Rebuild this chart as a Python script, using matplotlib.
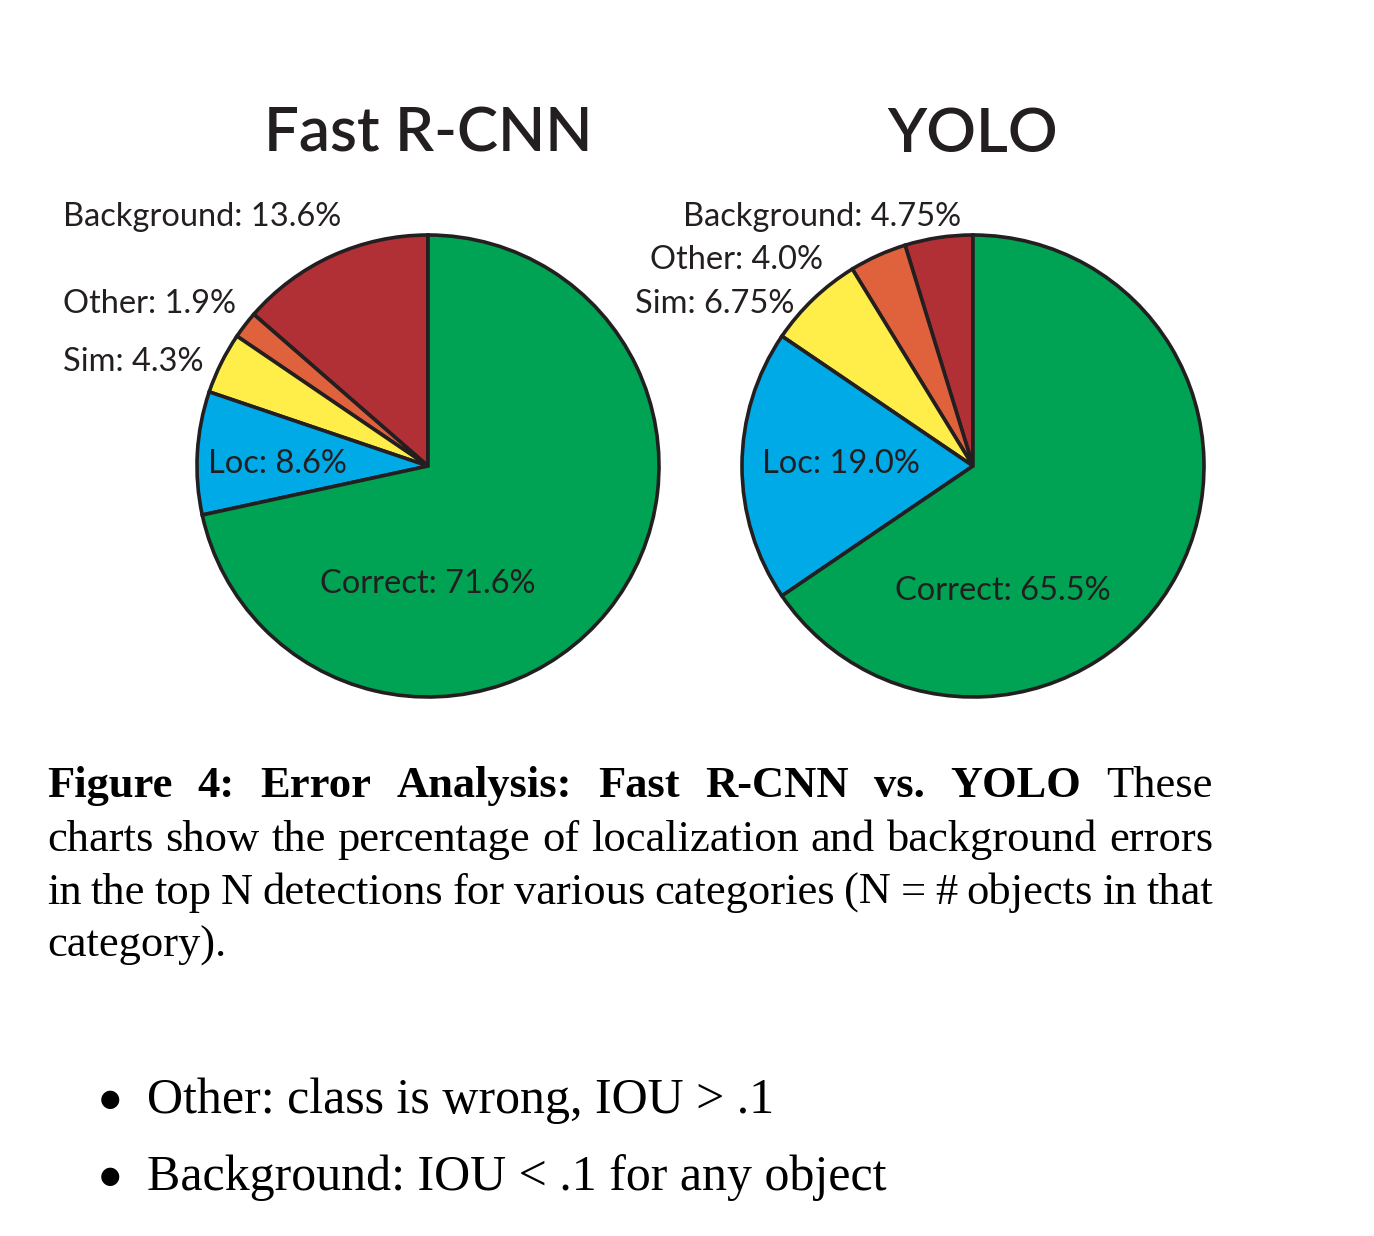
import matplotlib
matplotlib.use("Agg")
import matplotlib.pyplot as plt

# error breakdown, percent of top detections
categories = ["Background", "Other", "Sim", "Loc", "Correct"]
fast_rcnn = [13.6, 1.9, 4.3, 8.6, 71.6]
yolo = [4.75, 4.0, 6.75, 19.0, 65.5]
titles = ["Fast R-CNN", "YOLO"]
colors = ["#B03035", "#E0623D", "#FFEE4A", "#00AAE6", "#00A253"]

caption_lines = [
    [("Figure", "bold"), ("4:", "bold"), ("Error", "bold"), ("Analysis:", "bold"),
     ("Fast", "bold"), ("R-CNN", "bold"), ("vs.", "bold"), ("YOLO", "bold"), ("These", "normal")],
    "charts show the percentage of localization and background errors",
    "in the top N detections for various categories (N = # objects in that",
    "category).",
]
bullets = ["Other: class is wrong, IOU > .1",
           "Background: IOU < .1 for any object"]

W, H = 1374, 1236
ink = "#231F20"
lab_font = "Lato"
serif = "Liberation Serif"

fig = plt.figure(figsize=(W / 100, H / 100), dpi=100)
ax = fig.add_axes([0, 0, 1, 1])

# pie centres (px from top-left) and label anchors
centers = [(428, 466), (973, 466)]
radius = 231
label_pos = [
    [(63, 217), (63, 304), (63, 362), (208, 464), (320, 584)],
    [(683, 217), (650, 260), (635, 304), (762, 464), (895, 591)],
]

for k, vals in enumerate([fast_rcnn, yolo]):
    cx, cy = centers[k]
    ax.pie(vals, colors=colors, startangle=90, counterclock=True,
           center=(cx, H - cy), radius=radius,
           wedgeprops=dict(edgecolor=ink, linewidth=2.6))
    for name, v, (lx, ly) in zip(categories, vals, label_pos[k]):
        ax.text(lx, H - ly, f"{name}: {v}%", fontsize=23.5, family=lab_font,
                color=ink, ha="left", va="center")
    ax.text(cx, H - 134, titles[k], fontsize=44.5, family=lab_font, weight="semibold",
            color=ink, ha="center", va="center")

ax.set_xlim(0, W)
ax.set_ylim(0, H)
ax.axis("off")

# caption, justified between x0 and x1
rend = fig.canvas.get_renderer()
x0, x1 = 47, 1213
base = [797, 851, 904, 957]
for i, line in enumerate(caption_lines):
    if isinstance(line, str):
        words = [(w, "normal") for w in line.split()]
    else:
        words = line
    y = H - base[i]
    if i == len(caption_lines) - 1:
        ax.text(x0, y, " ".join(w for w, _ in words), fontsize=32, family=serif,
                color="black", ha="left", va="baseline")
        continue
    items = []
    for w, wt in words:
        t = ax.text(0, y, w, fontsize=32, family=serif, weight=wt,
                    color="black", ha="left", va="baseline")
        items.append(t)
    widths = [t.get_window_extent(rend).width for t in items]
    gap = (x1 - x0 - sum(widths)) / (len(items) - 1)
    x = x0
    for t, wd in zip(items, widths):
        t.set_x(x)
        x += wd + gap

for j, b in enumerate(bullets):
    y = H - [1113, 1190][j]
    ax.text(110, y + 14, "\u25CF", fontsize=17, family="DejaVu Sans", color="black",
            ha="center", va="center")
    ax.text(147, y, b, fontsize=36, family=serif, color="black",
            ha="left", va="baseline")

fig.savefig("out.png", dpi=100, facecolor="white")
